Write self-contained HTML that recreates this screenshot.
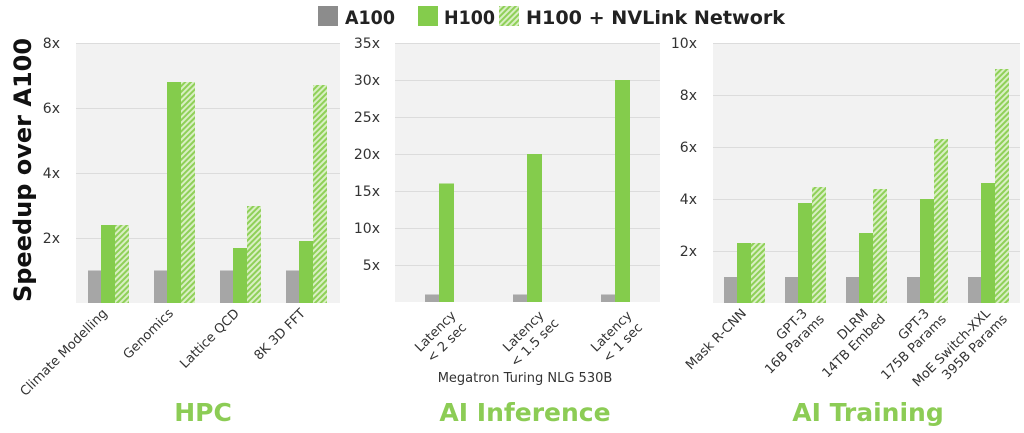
<!DOCTYPE html>
<html><head><meta charset="utf-8"><style>
body{margin:0;background:#fff;}
svg{display:block;font-family:"DejaVu Sans","Liberation Sans",sans-serif;}
</style></head><body>
<svg width="1024" height="433" viewBox="0 0 1024 433" xmlns="http://www.w3.org/2000/svg">
<defs>
<pattern id="h" width="4" height="4" patternUnits="userSpaceOnUse" patternTransform="rotate(45)">
<rect width="4" height="4" fill="#d9efc4"/><rect width="2" height="4" fill="#8fd058"/>
</pattern>
</defs>
<!-- legend -->
<rect x="318" y="6" width="20" height="20" fill="#8c8c8c"/>
<text x="345" y="24" font-size="19" font-weight="bold" fill="#222" textLength="50" lengthAdjust="spacingAndGlyphs">A100</text>
<rect x="418" y="6" width="20" height="20" fill="#84cc4c"/>
<text x="444" y="24" font-size="19" font-weight="bold" fill="#222" textLength="51" lengthAdjust="spacingAndGlyphs">H100</text>
<rect x="499" y="6" width="20" height="20" fill="url(#h)"/>
<text x="526" y="24" font-size="19" font-weight="bold" fill="#222" textLength="259" lengthAdjust="spacingAndGlyphs">H100 + NVLink Network</text>
<text transform="translate(31,170) rotate(-90)" text-anchor="middle" font-size="24" font-weight="bold" fill="#111">Speedup over A100</text>

<!-- Panel 1 -->
<rect x="76" y="43" width="264" height="260" fill="#f2f2f2"/>
<g stroke="#dcdcdc" stroke-width="1"><line x1="76" x2="340" y1="43.5" y2="43.5"/><line x1="76" x2="340" y1="108.5" y2="108.5"/><line x1="76" x2="340" y1="173.5" y2="173.5"/><line x1="76" x2="340" y1="238.5" y2="238.5"/></g>
<g font-size="14" fill="#333" text-anchor="end"><text x="60" y="48">8x</text><text x="60" y="113">6x</text><text x="60" y="178">4x</text><text x="60" y="243">2x</text></g>
<g>
<rect x="88" y="270.5" width="13" height="32.5" fill="#a6a6a6"/><rect x="101" y="225" width="14" height="78" fill="#84cc4c"/><rect x="115" y="225" width="14" height="78" fill="url(#h)"/>
<rect x="154" y="270.5" width="13" height="32.5" fill="#a6a6a6"/><rect x="167" y="82" width="14" height="221" fill="#84cc4c"/><rect x="181" y="82" width="14" height="221" fill="url(#h)"/>
<rect x="220" y="270.5" width="13" height="32.5" fill="#a6a6a6"/><rect x="233" y="248" width="14" height="55" fill="#84cc4c"/><rect x="247" y="206" width="14" height="97" fill="url(#h)"/>
<rect x="286" y="270.5" width="13" height="32.5" fill="#a6a6a6"/><rect x="299" y="241" width="14" height="62" fill="#84cc4c"/><rect x="313" y="85" width="14" height="218" fill="url(#h)"/>
</g>
<g font-size="13" fill="#333" text-anchor="end">
<text transform="translate(108,314) rotate(-45)">Climate Modelling</text>
<text transform="translate(174,314) rotate(-45)">Genomics</text>
<text transform="translate(240,314) rotate(-45)">Lattice QCD</text>
<text transform="translate(306,314) rotate(-45)">8K 3D FFT</text>
</g>
<text x="203" y="421" text-anchor="middle" font-size="25" font-weight="bold" fill="#8ccc55">HPC</text>

<!-- Panel 2 -->
<rect x="395" y="43" width="265" height="259" fill="#f2f2f2"/>
<g stroke="#dcdcdc"><line x1="395" x2="660" y1="43.5" y2="43.5"/><line x1="395" x2="660" y1="80.5" y2="80.5"/><line x1="395" x2="660" y1="117.5" y2="117.5"/><line x1="395" x2="660" y1="154.5" y2="154.5"/><line x1="395" x2="660" y1="191.5" y2="191.5"/><line x1="395" x2="660" y1="228.5" y2="228.5"/><line x1="395" x2="660" y1="265.5" y2="265.5"/></g>
<g font-size="14" fill="#333" text-anchor="end"><text x="380" y="48">35x</text><text x="380" y="85">30x</text><text x="380" y="122">25x</text><text x="380" y="159">20x</text><text x="380" y="196">15x</text><text x="380" y="233">10x</text><text x="380" y="270">5x</text></g>
<rect x="425" y="294.5" width="14" height="7.5" fill="#a6a6a6"/><rect x="439" y="183.5" width="15" height="118.5" fill="#84cc4c"/>
<rect x="513" y="294.5" width="14" height="7.5" fill="#a6a6a6"/><rect x="527" y="154" width="15" height="148" fill="#84cc4c"/>
<rect x="601" y="294.5" width="14" height="7.5" fill="#a6a6a6"/><rect x="615" y="80" width="15" height="222" fill="#84cc4c"/>
<g font-size="13" fill="#333" text-anchor="middle">
<text transform="translate(444,340) rotate(-45)"><tspan x="0" y="-8">Latency</tspan><tspan x="0" y="8">&lt; 2 sec</tspan></text>
<text transform="translate(532,340) rotate(-45)"><tspan x="0" y="-8">Latency</tspan><tspan x="0" y="8">&lt; 1.5 sec</tspan></text>
<text transform="translate(620,340) rotate(-45)"><tspan x="0" y="-8">Latency</tspan><tspan x="0" y="8">&lt; 1 sec</tspan></text>
<text x="525" y="382">Megatron Turing NLG 530B</text>
</g>
<text x="525" y="421" text-anchor="middle" font-size="25" font-weight="bold" fill="#8ccc55">AI Inference</text>

<!-- Panel 3 -->
<rect x="713" y="43" width="307" height="260" fill="#f2f2f2"/>
<g stroke="#dcdcdc"><line x1="713" x2="1020" y1="43.5" y2="43.5"/><line x1="713" x2="1020" y1="95.5" y2="95.5"/><line x1="713" x2="1020" y1="147.5" y2="147.5"/><line x1="713" x2="1020" y1="199.5" y2="199.5"/><line x1="713" x2="1020" y1="251.5" y2="251.5"/></g>
<g font-size="14" fill="#333" text-anchor="end"><text x="697" y="48">10x</text><text x="697" y="100">8x</text><text x="697" y="152">6x</text><text x="697" y="204">4x</text><text x="697" y="256">2x</text></g>
<g>
<rect x="724" y="277" width="13" height="26" fill="#a6a6a6"/><rect x="737" y="243" width="14" height="60" fill="#84cc4c"/><rect x="751" y="243" width="14" height="60" fill="url(#h)"/>
<rect x="785" y="277" width="13" height="26" fill="#a6a6a6"/><rect x="798" y="203" width="14" height="100" fill="#84cc4c"/><rect x="812" y="187" width="14" height="116" fill="url(#h)"/>
<rect x="846" y="277" width="13" height="26" fill="#a6a6a6"/><rect x="859" y="233" width="14" height="70" fill="#84cc4c"/><rect x="873" y="189" width="14" height="114" fill="url(#h)"/>
<rect x="907" y="277" width="13" height="26" fill="#a6a6a6"/><rect x="920" y="199" width="14" height="104" fill="#84cc4c"/><rect x="934" y="139" width="14" height="164" fill="url(#h)"/>
<rect x="968" y="277" width="13" height="26" fill="#a6a6a6"/><rect x="981" y="183" width="14" height="120" fill="#84cc4c"/><rect x="995" y="69" width="14" height="234" fill="url(#h)"/>
</g>
<g font-size="13" fill="#333" text-anchor="end">
<text transform="translate(747,314) rotate(-45)">Mask R-CNN</text>
<text transform="translate(808,314) rotate(-45)"><tspan x="0" y="0">GPT-3</tspan><tspan x="8" y="16">16B Params</tspan></text>
<text transform="translate(869,314) rotate(-45)"><tspan x="0" y="0">DLRM</tspan><tspan x="8" y="16">14TB Embed</tspan></text>
<text transform="translate(930,314) rotate(-45)"><tspan x="0" y="0">GPT-3</tspan><tspan x="8" y="16">175B Params</tspan></text>
<text transform="translate(991,314) rotate(-45)"><tspan x="0" y="0">MoE Switch-XXL</tspan><tspan x="8" y="16">395B Params</tspan></text>
</g>
<text x="868" y="421" text-anchor="middle" font-size="25" font-weight="bold" fill="#8ccc55">AI Training</text>
</svg>
</body></html>
